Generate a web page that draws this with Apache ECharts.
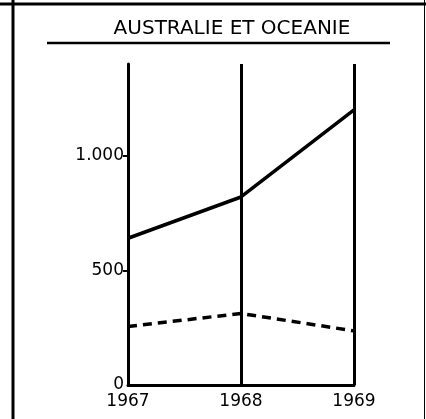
<!DOCTYPE html>
<html>
<head>
<meta charset="utf-8">
<script src="https://cdn.jsdelivr.net/npm/echarts@6/dist/echarts.min.js"></script>
<style>
  html, body { margin: 0; padding: 0; background: #fff; }
  #chart { width: 426px; height: 419px; }
</style>
</head>
<body>
<div id="chart"></div>
<script>
// données
var years = ['1967', '1968', '1969'];
var solidValues = [640, 820, 1200];
var dashedValues = [255, 312, 236];
var yTicks = [0, 500, 1000];

var chart = echarts.init(document.getElementById('chart'));
var font = '"DejaVu Sans", "Liberation Sans", sans-serif';

var option = {
  animation: false,
  backgroundColor: '#fff',
  title: {
    text: 'AUSTRALIE ET OCEANIE',
    left: 227,
    textAlign: 'center',
    top: 14,
    textStyle: { fontFamily: font, fontSize: 20, fontWeight: 'normal', color: '#000' }
  },
  graphic: [
    // cadre de la page
    { type: 'line', shape: { x1: 0, y1: 4, x2: 426, y2: 4 }, style: { stroke: '#000', lineWidth: 3 } },
    { type: 'line', shape: { x1: 13, y1: 0, x2: 13, y2: 419 }, style: { stroke: '#000', lineWidth: 3 } },
    { type: 'line', shape: { x1: 424.5, y1: 0, x2: 424.5, y2: 419 }, style: { stroke: '#000', lineWidth: 1 } },
    // trait sous le titre
    { type: 'line', shape: { x1: 47, y1: 43, x2: 390, y2: 43 }, style: { stroke: '#000', lineWidth: 2.5 } }
  ],
  grid: { left: 128, right: 72, top: 64, bottom: 34 },
  xAxis: {
    type: 'category',
    data: years,
    boundaryGap: false,
    axisLine: { lineStyle: { color: '#000', width: 3 } },
    axisTick: { show: false },
    axisLabel: { color: '#000', fontFamily: font, fontSize: 17, margin: 8 },
    splitLine: { show: true, lineStyle: { color: '#000', width: 3 } }
  },
  yAxis: {
    type: 'value',
    min: 0,
    max: 1400,
    axisLine: { show: true, lineStyle: { color: '#000', width: 3 } },
    axisTick: { show: true, length: 5, customValues: [500, 1000], lineStyle: { color: '#000', width: 2 } },
    axisLabel: {
      color: '#000', fontFamily: font, fontSize: 17, margin: 4,
      customValues: yTicks,
      formatter: function (v) { return v >= 1000 ? '1.000' : String(v); }
    },
    splitLine: { show: false }
  },
  series: [
    {
      type: 'line',
      data: solidValues,
      symbol: 'none',
      lineStyle: { color: '#000', width: 3.5 }
    },
    {
      type: 'line',
      data: dashedValues,
      symbol: 'none',
      lineStyle: { color: '#000', width: 3.5, type: [9, 6] }
    }
  ]
};

chart.setOption(option);
</script>
</body>
</html>
